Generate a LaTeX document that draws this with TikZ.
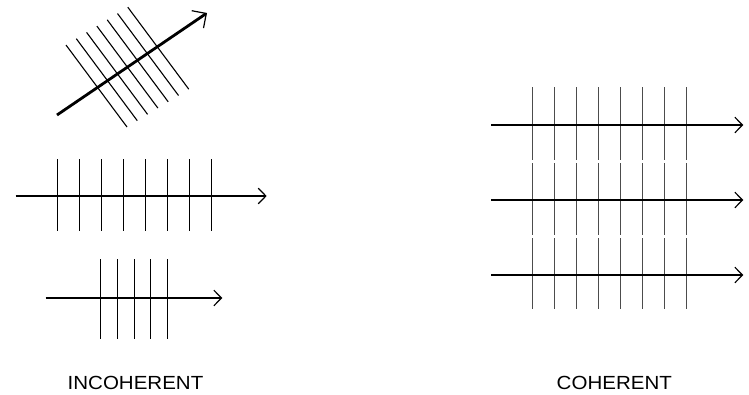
\documentclass[tikz,border=0pt]{standalone}
\usepackage{fontspec}
\usepackage{graphicx}
\newfontfamily\capfont{Liberation Sans}
\usetikzlibrary{arrows.meta}

\begin{document}
\begin{tikzpicture}[
  x=1pt, y=-1pt,
  ray/.style={line width=2pt, -{Straight Barb[length=7.6pt, width=15.6pt, line width=1.2pt]}},
  bigray/.style={line width=2.8pt, -{Straight Barb[length=10.5pt, width=21pt, line width=1.2pt]}},
  front/.style={line width=1.1pt, black},
  cfront/.style={line width=1.1pt, black!70},
  caption/.style={font=\capfont\fontsize{19}{21}\selectfont, inner sep=0pt, anchor=base},
  ]
  \useasboundingbox (0,0) rectangle (749,394);

  % oblique ray with its wavefronts
  \foreach \i in {0,...,6}
    \draw[front] (66+10.3*\i, 45-6.3*\i) -- (127+10.3*\i, 127-6.3*\i);
  \coordinate (r1s) at (57,115);
  \coordinate (r1e) at (207,13);
  \draw[bigray] (r1s) -- (r1e);

  % horizontal ray, eight fronts
  \foreach \i in {0,...,7}
    \draw[front] (57.5+22*\i, 159) -- (57.5+22*\i, 231);
  \coordinate (r2s) at (15.7,196);
  \coordinate (r2e) at (266.7,196);
  \draw[ray] (r2s) -- (r2e);

  % short ray, five fronts
  \foreach \x in {100.5,117.5,134.5,150.5,167.5}
    \draw[front] (\x, 259) -- (\x, 339);
  \coordinate (r3s) at (45.7,298);
  \coordinate (r3e) at (222.3,298);
  \draw[ray] (r3s) -- (r3e);

  % coherent beam
  \foreach \i in {0,...,7} {
    \draw[cfront] (532.5+22*\i, 87) -- (532.5+22*\i, 160);
    \draw[cfront] (532.5+22*\i, 163) -- (532.5+22*\i, 235);
    \draw[cfront] (532.5+22*\i, 238) -- (532.5+22*\i, 309);
  }
  \foreach \y/\n in {125/a, 200/b, 275/c} {
    \coordinate (c\n s) at (491,\y);
    \coordinate (c\n e) at (743.3,\y);
    \draw[ray] (c\n s) -- (c\n e);
  }

  \node[caption] (incoh) at (135.5,389) {\scalebox{1.08}[1]{INCOHERENT}};
  \node[caption] (coh) at (614.3,389) {\scalebox{1.08}[1]{COHERENT}};
\end{tikzpicture}
\end{document}
